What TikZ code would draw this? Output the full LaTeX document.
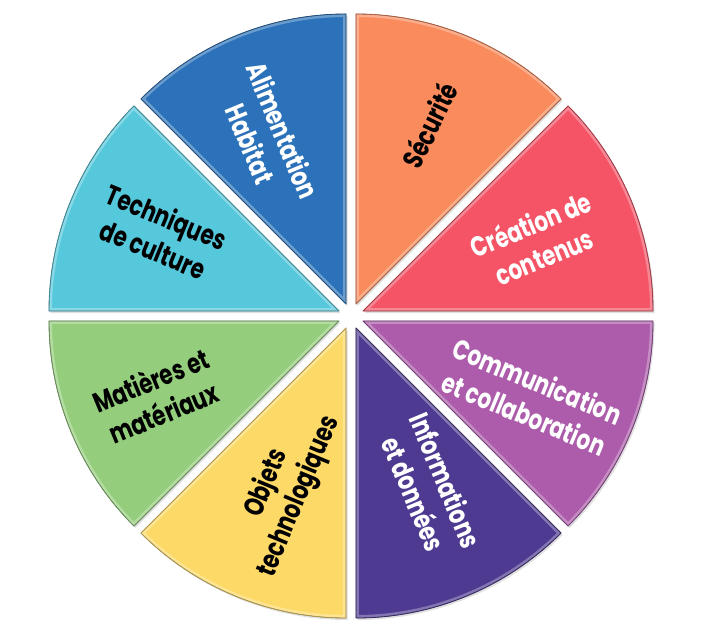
\documentclass[tikz,border=0pt]{standalone}
\usepackage{fontspec}
\setmainfont{Poppins}[FakeStretch=0.76]
\usepackage{tikz}
\usetikzlibrary{shadows}
\definecolor{alim}{HTML}{2B72BA}
\definecolor{secu}{HTML}{FA8B5C}
\definecolor{crea}{HTML}{F45466}
\definecolor{comm}{HTML}{AC5CAB}
\definecolor{info}{HTML}{4E3A91}
\definecolor{objet}{HTML}{FDDA68}
\definecolor{matiere}{HTML}{94CE7C}
\definecolor{techn}{HTML}{55C8DC}

\begin{document}
\begin{tikzpicture}[
x=1pt,y=1pt,
wedge/.style={fill=#1,
  drop shadow={shadow xshift=1.5pt,shadow yshift=-2pt,opacity=.35},
  postaction={draw=white,opacity=.3,line width=6pt,line join=round},
  postaction={draw=#1!70!black,line width=.8pt,line join=round}},
lbl/.style={font=\bfseries\fontsize{28}{35}\selectfont,align=center,text=black},
lblw/.style={lbl,text=white}]
    % frame
    \useasboundingbox (0,0) rectangle (703,641);
    \coordinate (O) at (351,325);

    % eight slices, each pushed out along its middle line
    \draw[wedge=secu] ([shift={(67.5:13)}]O) -- ++(45:290) arc[start angle=45,end angle=90,radius=290] -- cycle;
    \draw[wedge=alim] ([shift={(112.5:13)}]O) -- ++(90:290) arc[start angle=90,end angle=135,radius=290] -- cycle;
    \draw[wedge=techn] ([shift={(157.5:13)}]O) -- ++(135:290) arc[start angle=135,end angle=180,radius=290] -- cycle;
    \draw[wedge=matiere] ([shift={(202.5:13)}]O) -- ++(180:290) arc[start angle=180,end angle=225,radius=290] -- cycle;
    \draw[wedge=objet] ([shift={(247.5:13)}]O) -- ++(225:290) arc[start angle=225,end angle=270,radius=290] -- cycle;
    \draw[wedge=info] ([shift={(292.5:13)}]O) -- ++(270:290) arc[start angle=270,end angle=315,radius=290] -- cycle;
    \draw[wedge=comm] ([shift={(337.5:13)}]O) -- ++(315:290) arc[start angle=315,end angle=360,radius=290] -- cycle;
    \draw[wedge=crea] ([shift={(22.5:13)}]O) -- ++(0:290) arc[start angle=0,end angle=45,radius=290] -- cycle;

    % labels
    \node[lbl,rotate=64] (securite) at (429,516) {Sécurité};
    \node[lblw,rotate=22.5] (creation) at (537,401) {Création de\\contenus};
    \node[lblw,rotate=-22.5] (communication) at (531,244) {Communication\\et collaboration};
    \node[lblw,rotate=-67.5] (informations) at (430,154) {Informations\\et données};
    \node[lbl,rotate=67.5] (objets) at (283,151) {Objets\\technologiques};
    \node[lbl,rotate=22.5] (matieres) at (157,245) {Matières et\\matériaux};
    \node[lbl,rotate=-22.5] (techniques) at (160,408) {Techniques\\de culture};
    \node[lblw,rotate=-67.5] (alimentation) at (267,504) {Alimentation\\Habitat};

\end{tikzpicture}
\end{document}
